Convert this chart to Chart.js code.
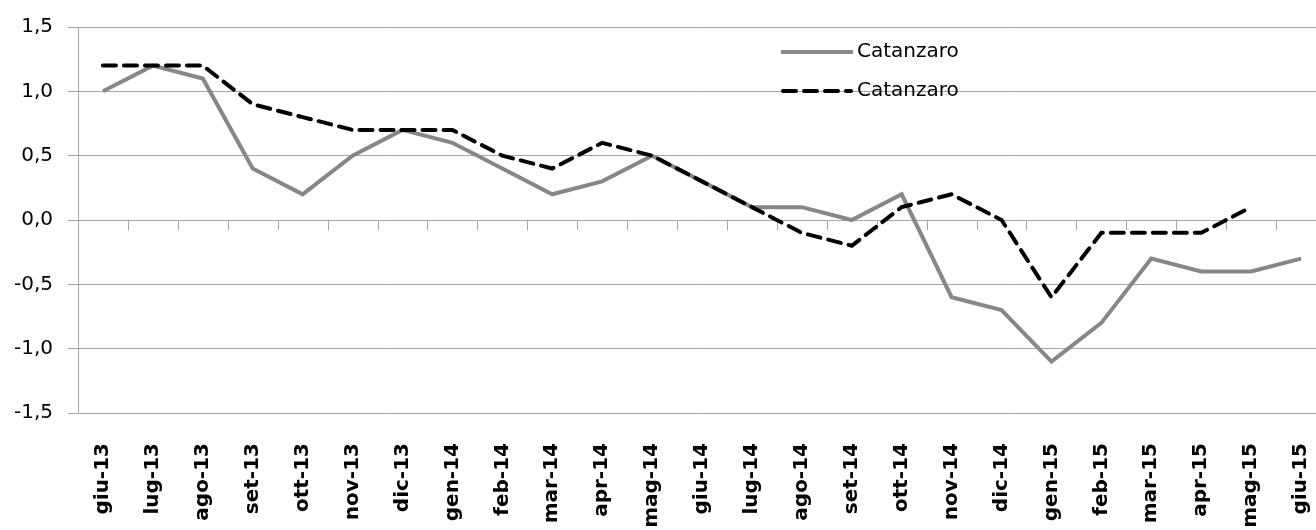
<!DOCTYPE html>
<html>
<head>
<meta charset="utf-8">
<script src="https://cdn.jsdelivr.net/npm/chart.js@4.4.1/dist/chart.umd.min.js"></script>
<style>
  html, body { margin: 0; padding: 0; background: #fff; overflow: hidden; }
  #wrap { position: relative; width: 1326px; height: 530px; }
</style>
</head>
<body>
<div id="wrap"><canvas id="c"></canvas></div>
<script>
const categories = ["giu-13","lug-13","ago-13","set-13","ott-13","nov-13","dic-13","gen-14","feb-14","mar-14","apr-14","mag-14","giu-14","lug-14","ago-14","set-14","ott-14","nov-14","dic-14","gen-15","feb-15","mar-15","apr-15","mag-15","giu-15"];
const seriesNames = ["Catanzaro", "Catanzaro"];
const solidValues = [1.0, 1.2, 1.1, 0.4, 0.2, 0.5, 0.7, 0.6, 0.4, 0.2, 0.3, 0.5, 0.3, 0.1, 0.1, 0.0, 0.2, -0.6, -0.7, -1.1, -0.8, -0.3, -0.4, -0.4, -0.3];
const dashedValues = [1.2, 1.2, 1.2, 0.9, 0.8, 0.7, 0.7, 0.7, 0.5, 0.4, 0.6, 0.5, 0.3, 0.1, -0.1, -0.2, 0.1, 0.2, 0.0, -0.6, -0.1, -0.1, -0.1, 0.1, null];
const yMin = -1.5, yMax = 1.5, yStep = 0.5;

const zeroTicks = {
  id: 'zeroTicks',
  beforeDatasetsDraw(chart) {
    const x = chart.scales.x, y = chart.scales.y, ctx = chart.ctx;
    const band = x.getPixelForValue(1) - x.getPixelForValue(0);
    const y0 = y.getPixelForValue(0);
    ctx.save();
    ctx.strokeStyle = '#a6a6a6';
    ctx.lineWidth = 1;
    for (let i = 1; i <= categories.length; i++) {
      const px = Math.round(x.getPixelForValue(i) - band / 2) + 0.5;
      ctx.beginPath();
      ctx.moveTo(px, y0);
      ctx.lineTo(px, y0 + 10);
      ctx.stroke();
    }
    ctx.restore();
  }
};

const innerLegend = {
  id: 'innerLegend',
  afterDraw(chart) {
    const ctx = chart.ctx;
    const x0 = 781, x1 = 853, rows = [52, 91];
    ctx.save();
    chart.data.datasets.forEach((ds, i) => {
      const yy = rows[i];
      ctx.beginPath();
      ctx.strokeStyle = ds.borderColor;
      ctx.lineWidth = ds.borderWidth;
      ctx.lineCap = ds.borderCapStyle || 'butt';
      ctx.setLineDash(ds.borderDash || []);
      ctx.moveTo(x0 + (ds.borderDash ? 2 : 0), yy);
      ctx.lineTo(x1 - (ds.borderDash ? 2 : 0), yy);
      ctx.stroke();
      ctx.setLineDash([]);
      ctx.fillStyle = '#000';
      ctx.font = '20px "DejaVu Sans"';
      ctx.textBaseline = 'middle';
      ctx.textAlign = 'left';
      ctx.fillText(ds.label, x1 + 4, yy);
    });
    ctx.restore();
  }
};

new Chart(document.getElementById('c'), {
  type: 'line',
  data: {
    labels: categories,
    datasets: [
      {
        label: seriesNames[0],
        data: solidValues,
        borderColor: '#878787',
        borderWidth: 4,
        borderCapStyle: 'butt',
        pointRadius: 0,
        tension: 0,
        fill: false,
        order: 1
      },
      {
        label: seriesNames[1],
        data: dashedValues,
        borderColor: '#000000',
        borderWidth: 4,
        borderDash: [13, 8],
        borderCapStyle: 'round',
        pointRadius: 0,
        tension: 0,
        fill: false,
        spanGaps: false,
        order: 0
      }
    ]
  },
  options: {
    responsive: true,
    maintainAspectRatio: false,
    animation: false,
    layout: { padding: { top: 26, left: 0, right: 0, bottom: 0 } },
    plugins: { legend: { display: false }, tooltip: { enabled: false } },
    scales: {
      x: {
        offset: true,
        grid: { display: false, drawTicks: false },
        border: { display: false },
        ticks: {
          autoSkip: false,
          minRotation: 90,
          maxRotation: 90,
          padding: 30,
          color: '#000',
          font: { family: 'DejaVu Sans', size: 20, weight: 'bold' }
        },
        afterFit(scale) {
          scale.height = 117;
          scale.paddingRight = 0;
          scale.paddingLeft = 0;
        }
      },
      y: {
        min: yMin,
        max: yMax,
        grid: { color: '#a6a6a6', lineWidth: 1, tickLength: 10, drawTicks: true },
        border: { display: true, color: '#a6a6a6', width: 1 },
        ticks: {
          stepSize: yStep,
          padding: 15,
          color: '#000',
          font: { family: 'DejaVu Sans', size: 20 },
          callback: v => v.toFixed(1).replace('.', ',')
        },
        afterFit(scale) { scale.width = 78; }
      }
    }
  },
  plugins: [zeroTicks, innerLegend]
});
</script>
</body>
</html>
